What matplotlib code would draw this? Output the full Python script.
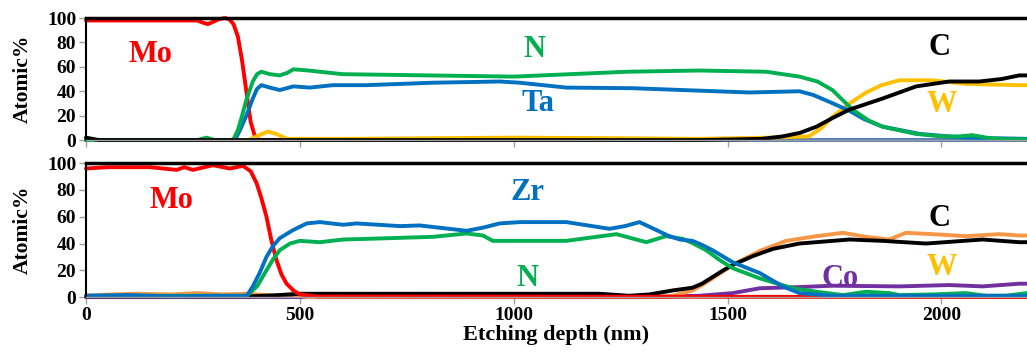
import matplotlib.pyplot as plt

plt.rcParams['font.family'] = ['Liberation Serif', 'DejaVu Serif']
plt.rcParams['font.weight'] = 'bold'

# ---- top panel (Mo / TaN / WC) ----
top_mo_x = [0, 100, 200, 260, 275, 285, 298, 310, 325, 335, 345, 355, 365, 375,
            385, 395, 405, 2200]
top_mo = [98, 98, 98, 98, 96, 95, 97, 99, 100, 99, 95, 85, 65, 40,
          15, 3, 0, 0]

top_n_x = [0, 260, 282, 300, 344, 355, 365, 375, 390, 400, 410, 430, 453, 470, 485,
           520, 600, 800, 1000, 1264, 1434, 1590, 1668, 1710, 1745, 1792, 1830,
           1862, 1941, 2002, 2040, 2072, 2105, 2135, 2200]
top_n = [0, 0, 2, 0, 0, 8, 20, 33, 48, 54, 56, 54, 53, 55, 58,
         57, 54, 53, 52, 56, 57, 56, 52, 48, 41, 25, 16,
         11, 5, 3, 3, 4, 2, 1, 0.5]

top_ta_x = [0, 348, 360, 375, 390, 400, 410, 430, 453, 485, 523, 577, 656, 811, 967,
            1014, 1123, 1278, 1551, 1668, 1700, 1740, 1785, 1820, 1862, 1950, 2050, 2200]
top_ta = [0, 0, 8, 20, 34, 42, 45, 43, 41, 44, 43, 45, 45, 47, 48,
          47, 43, 42.5, 39, 40, 37, 31, 24, 17, 11, 5, 2, 1]

top_w_x = [0, 380, 405, 425, 445, 470, 600, 1000, 1250, 1430, 1600, 1690, 1720,
           1745, 1785, 1824, 1860, 1901, 1979, 2057, 2182, 2200]
top_w = [0, 0, 4, 7, 5, 1, 1, 2, 1.5, 1, 2, 3, 10,
         19, 30, 39, 45, 49, 49, 46, 45, 45]

top_c_x = [0, 30, 1434, 1580, 1629, 1670, 1708, 1745, 1785, 1862, 1941, 2018, 2088,
           2140, 2182, 2200]
top_c = [2, 0, 0, 1, 3, 6, 11, 18, 25, 34, 44, 48, 48, 50, 53, 53]

top_base_x = [1430, 2200]
top_base = [0, 0]

# ---- bottom panel (Mo / ZrN / WC-Co) ----
bot_mo_x = [0, 50, 150, 212, 230, 250, 297, 336, 367, 385, 399, 410, 422, 433, 445,
            457, 469, 485, 500, 540, 2200]
bot_mo = [96, 97, 97, 95, 97, 95, 98.5, 96, 98, 94, 85, 74, 60, 43, 28,
          17, 10, 5, 2, 0.5, 0]

bot_zr_x = [0, 100, 200, 300, 376, 390, 406, 422, 437, 453, 484, 516, 547, 601, 633,
            734, 780, 890, 930, 967, 1014, 1123, 1224, 1260, 1294, 1334, 1360, 1388,
            1418, 1440, 1465, 1512, 1575, 1629, 1668, 1745, 2200]
bot_zr = [1, 1.5, 0.5, 1, 1, 8, 18, 30, 38, 44, 50, 55, 56, 54, 55,
          53, 53.5, 49.5, 52, 55, 56, 56, 51, 53, 56, 50, 46, 43,
          42, 39, 35, 26, 18, 8, 3, 1, 1]

bot_n_x = [0, 376, 400, 422, 437, 453, 477, 500, 547, 601, 657, 811, 890, 928, 951,
           1014, 1123, 1240, 1310, 1356, 1395, 1420, 1450, 1480, 1512, 1575, 1653,
           1708, 1770, 1824, 1878, 1902, 1979, 2057, 2104, 2150, 2200]
bot_n = [1, 1, 8, 20, 28, 35, 40, 42, 41, 43, 43.5, 45, 47.5, 46, 42,
         42, 42, 47, 41, 45.5, 43.5, 40, 35, 28, 21.6, 14, 6.6,
         4, 1.5, 4, 3, 1.5, 2, 3, 1, 1, 3]

bot_c_x = [0, 380, 450, 500, 1068, 1200, 1270, 1317, 1372, 1418, 1440, 1465, 1490,
           1512, 1559, 1606, 1668, 1785, 1862, 1964, 2096, 2182, 2200]
bot_c = [0.5, 0.5, 1.5, 2.5, 2.5, 2.5, 1, 2, 5, 7, 10, 15, 20,
         24, 30.6, 36, 40, 43, 42, 40, 43, 41, 41]

bot_w_x = [0, 60, 120, 200, 260, 320, 380, 440, 480, 520, 1330, 1372, 1418, 1440,
           1465, 1512, 1575, 1637, 1708, 1770, 1824, 1878, 1917, 1979, 2057, 2135,
           2182, 2200]
bot_w = [1, 2, 2.5, 2, 3, 2, 2.5, 1, 2, 0, 0, 1, 5, 9,
         14, 24, 34.5, 42, 45.5, 48, 45, 43, 48, 47, 45.5, 47,
         46, 46]

bot_co_x = [0, 1300, 1434, 1512, 1575, 1668, 1745, 1902, 2018, 2096, 2182, 2200]
bot_co = [0, 0, 1, 3, 6.6, 7.5, 8.5, 8, 9, 8, 10, 10]

RED = '#FF0000'
GREEN = '#00B050'
BLUE = '#0070C0'
YELLOW = '#FFC000'
ORANGE = '#F79646'
PURPLE = '#7030A0'
STEEL = '#4F81BD'

fig = plt.figure(figsize=(10.27, 3.61), dpi=100)
ax1 = fig.add_axes([0.0837, 0.612, 0.9163, 0.338])
ax2 = fig.add_axes([0.0837, 0.177, 0.9163, 0.371])

lw = 2.8
kw = dict(lw=lw, solid_joinstyle='round', solid_capstyle='round', clip_on=False)

ax1.plot(top_mo_x, top_mo, color=RED, **kw)
ax1.plot(top_base_x, top_base, color=STEEL, **kw)
ax1.plot(top_w_x, top_w, color=YELLOW, **kw)
ax1.plot(top_ta_x, top_ta, color=BLUE, **kw)
ax1.plot(top_n_x, top_n, color=GREEN, **kw)
ax1.plot(top_c_x, top_c, color='black', **kw)

ax2.plot(bot_co_x, bot_co, color=PURPLE, **kw)
ax2.plot(bot_w_x, bot_w, color=ORANGE, **kw)
ax2.plot(bot_c_x, bot_c, color='black', **kw)
ax2.plot(bot_mo_x, bot_mo, color=RED, **kw)
ax2.plot(bot_n_x, bot_n, color=GREEN, **kw)
ax2.plot(bot_zr_x, bot_zr, color=BLUE, **kw)

lbl = dict(fontsize=22, fontweight='bold', ha='center', va='center')
ax1.text(150, 70, 'Mo', color=RED, **lbl)
ax1.text(1049, 74, 'N', color=GREEN, **lbl)
ax1.text(1056, 30, 'Ta', color=BLUE, **lbl)
ax1.text(1995, 76, 'C', color='black', **lbl)
ax1.text(2000, 29, 'W', color=YELLOW, **lbl)

ax2.text(199, 72, 'Mo', color=RED, **lbl)
ax2.text(1033, 78, 'Zr', color=BLUE, **lbl)
ax2.text(1033, 14, 'N', color=GREEN, **lbl)
ax2.text(1762, 14, 'Co', color=PURPLE, **lbl)
ax2.text(2002, 22, 'W', color=YELLOW, **lbl)
ax2.text(1995, 59, 'C', color='black', **lbl)

for ax in (ax1, ax2):
    ax.set_xlim(0, 2200)
    ax.set_ylim(0, 100)
    ax.set_yticks([0, 20, 40, 60, 80, 100])
    ax.set_xticks([0, 500, 1000, 1500, 2000])
    ax.spines['right'].set_visible(False)
    ax.spines['top'].set_color('black')
    ax.spines['top'].set_linewidth(2.5)
    ax.spines['left'].set_color('black')
    ax.spines['left'].set_linewidth(1.5)
    ax.spines['bottom'].set_color('#A0A0A0')
    ax.spines['bottom'].set_linewidth(1.0)
    ax.tick_params(axis='both', direction='out', length=5, width=1,
                   color='#A0A0A0', labelsize=14, pad=2)
    ax.set_ylabel('Atomic%', fontsize=15.5, fontweight='bold', labelpad=10)
    for t in ax.get_yticklabels() + ax.get_xticklabels():
        t.set_fontweight('bold')

ax1.tick_params(axis='x', labelbottom=False)
ax2.set_xlabel('Etching depth (nm)', fontsize=16, fontweight='bold', labelpad=1)

fig.savefig('out.png', dpi=100)
